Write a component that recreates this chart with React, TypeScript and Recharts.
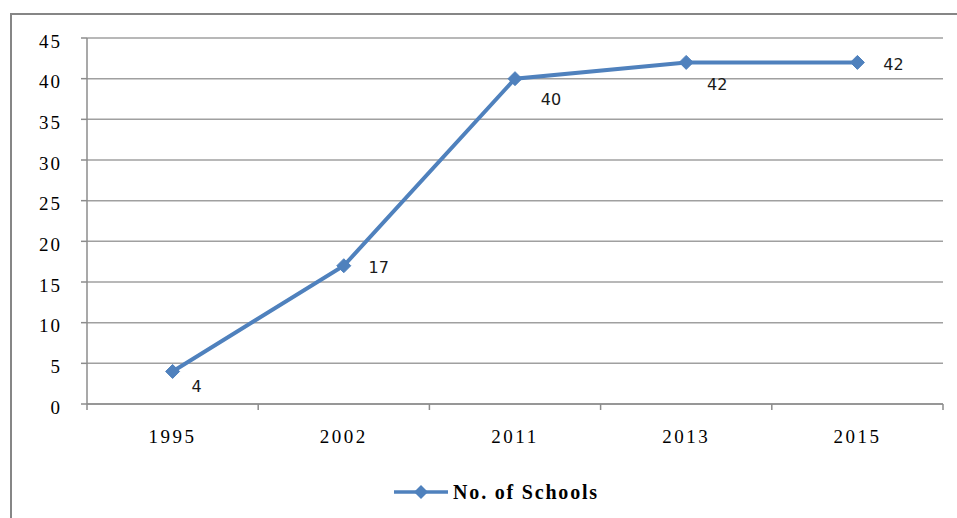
import React from "react";
import { LineChart, Line, XAxis, YAxis, CartesianGrid, Legend, LabelList } from "recharts";

const years = ["1995", "2002", "2011", "2013", "2015"];
const schools = [4, 17, 40, 42, 42];
const yTicks = [0, 5, 10, 15, 20, 25, 30, 35, 40, 45];
const seriesName = "No. of Schools";

// label offsets (style only) relative to each point
const labelOffsets = [
  { dx: 24, dy: 15 },
  { dx: 35, dy: 2 },
  { dx: 36, dy: 21 },
  { dx: 31, dy: 22 },
  { dx: 36, dy: 2 },
];

const data = years.map((y, i) => ({ year: y, value: schools[i] }));

const BLUE = "#4F81BD";
const GRID = "#a0a0a0";
const AXIS = "#8c8c8c";
const SERIF = "'Liberation Serif', 'Times New Roman', serif";

const Diamond = (props: any) => {
  const { cx, cy } = props;
  if (cx == null || cy == null) return null;
  const r = 7;
  return (
    <polygon
      points={`${cx},${cy - r} ${cx + r},${cy} ${cx},${cy + r} ${cx - r},${cy}`}
      fill={BLUE}
      stroke={BLUE}
      strokeWidth={1}
    />
  );
};

const XTick = (props: any) => {
  const { x, y, payload, index } = props;
  const half = payload && payload.offset ? payload.offset : 85.6;
  const last = index === years.length - 1;
  return (
    <g>
      <line x1={x - half} y1={y} x2={x - half} y2={y + 6} stroke={AXIS} strokeWidth={1.5} />
      {last && <line x1={x + half} y1={y} x2={x + half} y2={y + 6} stroke={AXIS} strokeWidth={1.5} />}
      <text
        x={x}
        y={y + 39}
        textAnchor="middle"
        fontFamily={SERIF}
        fontSize={19}
        letterSpacing={2.5}
        fill="#000"
      >
        {payload.value}
      </text>
    </g>
  );
};

const renderLabel = (props: any) => {
  const px = props.x ?? props.viewBox?.x;
  const py = props.y ?? props.viewBox?.y;
  const off = labelOffsets[props.index] || { dx: 30, dy: 0 };
  return (
    <text
      x={px + off.dx}
      y={py + off.dy}
      textAnchor="middle"
      dominantBaseline="central"
      fontFamily="'DejaVu Sans', Verdana, sans-serif"
      fontSize={16}
      fill="#1a1a1a"
    >
      {props.value}
    </text>
  );
};

const renderLegend = () => (
  <div
    style={{
      display: "flex",
      alignItems: "center",
      justifyContent: "center",
      height: 54,
      marginLeft: 49,
      paddingTop: 2,
      boxSizing: "border-box",
    }}
  >
    <svg width={56} height={16} style={{ marginRight: 4 }}>
      <line x1={1} y1={8} x2={55} y2={8} stroke={BLUE} strokeWidth={3.5} />
      <polygon points="28,1 35,8 28,15 21,8" fill={BLUE} />
    </svg>
    <span
      style={{
        fontFamily: SERIF,
        fontWeight: "bold",
        fontSize: 20,
        color: "#000",
        letterSpacing: 1.8,
      }}
    >
      {seriesName}
    </span>
  </div>
);

export default function App() {
  return (
    <div style={{ position: "absolute", left: 0, top: 0, width: 957, height: 518, overflow: "hidden", background: "#fff" }}>
      <div
        style={{
          position: "absolute",
          left: 10,
          top: 13,
          width: 980,
          height: 540,
          border: "2px solid #868686",
          boxSizing: "border-box",
        }}
      />
      <div style={{ position: "absolute", left: 0, top: 0 }}>
        <LineChart width={957} height={518} data={data} margin={{ top: 38, right: 14, left: 0, bottom: 0 }}>
          <CartesianGrid vertical={false} stroke={GRID} strokeWidth={1.5} />
          <XAxis
            dataKey="year"
            scale="band"
            tickLine={false}
            axisLine={{ stroke: AXIS, strokeWidth: 1.5 }}
            tickSize={0}
            tickMargin={0}
            height={60}
            tick={<XTick />}
            interval={0}
          />
          <YAxis
            domain={[0, 45]}
            ticks={yTicks}
            width={87}
            tickSize={6}
            tickMargin={19}
            axisLine={{ stroke: AXIS, strokeWidth: 1.5 }}
            tickLine={{ stroke: AXIS, strokeWidth: 1.5 }}
            tick={{ fontFamily: SERIF, fontSize: 19, fill: "#000", letterSpacing: 2, dy: 3 }}
            interval={0}
          />
          <Legend verticalAlign="bottom" height={54} content={renderLegend} />
          <Line
            type="linear"
            dataKey="value"
            name={seriesName}
            stroke={BLUE}
            strokeWidth={4}
            dot={<Diamond />}
            activeDot={false}
            isAnimationActive={false}
          >
            <LabelList dataKey="value" content={renderLabel} />
          </Line>
        </LineChart>
      </div>
    </div>
  );
}
